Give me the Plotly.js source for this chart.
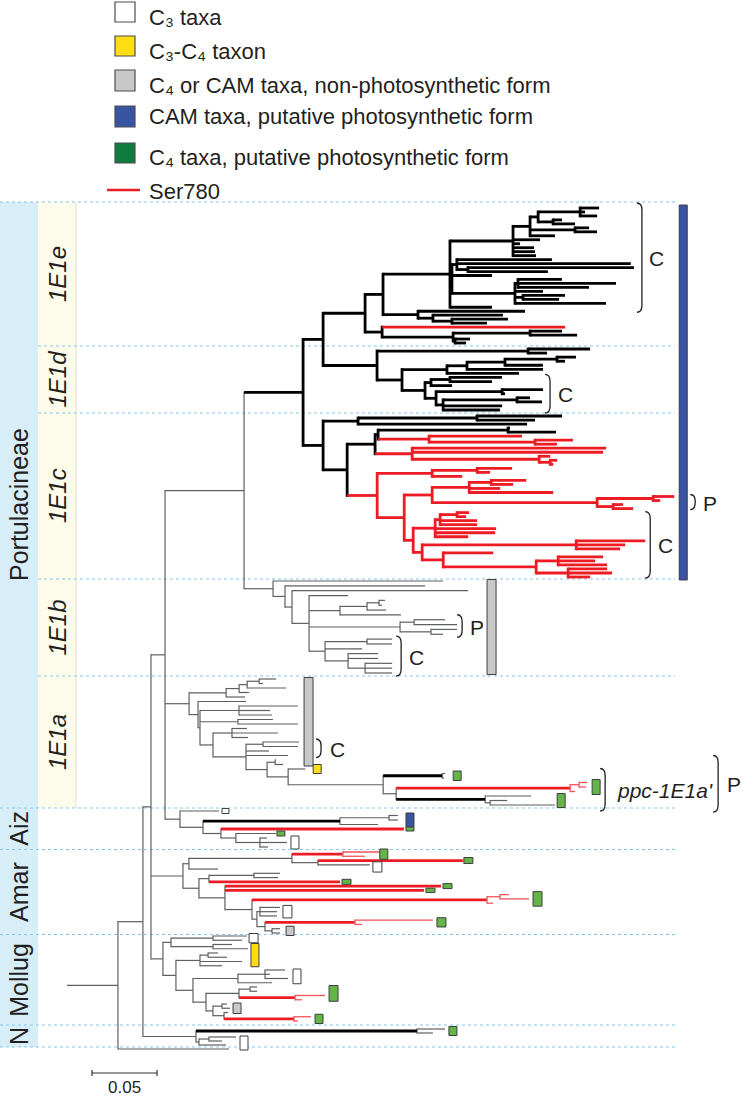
<!DOCTYPE html>
<html><head><meta charset="utf-8">
<script src="https://cdn.plot.ly/plotly-3.0.1.min.js"></script>
<style>html,body{margin:0;padding:0;background:#fff;}#chart{width:742px;height:1097px;}</style>
</head><body><div id="chart"></div>
<script>
// ================= DATA =================
// Subtrees in Newick; branch lengths in 0.001 substitutions/site.
// Node labels: K = thick black branch, R = thick red (Ser780), r = thin red, n = thin grey; "@id" names a node.
const clade1E1e = "(((((((:14.6,:3.8,:13.1):32.3,(:6.9,:16.9):11.5):6.2,(:10.8,:16.9):34.6,:19.2):13.1,:20.8,:5.4,:16.2,:16.9,:17.7):48.5,((:73.1,:133.8,(:127.7,:61.5):8.5):3.8,:30.8,((:33.8,:75.4,:54.6):2.3,:21.5,(:32.3,:27.7):6.2,:70):48.5):1.5,:32.3)@ce:51.5,(:82.3,(:53.8,(:43.1,:26.9):14.6):11.5):26.9):13.8,(R:140.8,((:24.6,:36.2):59.2,(:11.5,:8.5):1.5):54.6):13.1)@e:32.3";
const clade1E1d = "((:47.7,:14.6):116.2,(((((:14.6,:6.2):40,:29.2):29.2,:58.5):15.4,:55.4):34.6,(((:40,:32.3):14.6,:16.2):4.6,((:31.5,:2.3):50.8,((:10,:19.2):56.9,:45.4,:43.8):5.4):8.5)@cd:17.7):19.2)@d:41.5";
const clade1E1c = "(((:65.4,:44.6):91.5,:130):26.9,((((:1.5,:36.9):100,(:71.5,(:29.2,:16.9):81.5)R:39.2):2.3,(:149.2,:146.9,(:8.5,(:5.4,:2.3):8.5):97.7)R:28.5):21.5,(((:26.9,:10):34.6,:23.1):42.3,((((:26.9,:16.9):16.9,:23.8,:64.6):28.5,((:16.2,:5.4):43.1,(:7.7,:15.4):12.3)@cp:126.9):21.5,((((:9.2,:6.9):13.1,:28.5,:28.5):3.8,:46.9,:46.2,:25.4):16.9,((:53.1,:37.7,:33.8):118.5,(:38.5,((:34.6,:28.5,:37.7):16.9,(:30,:33.8,:16.9):24.6):71.5):16.2):6.9)@cc:6.9):20.8)R:23.1):18.5)@c:15.4";
const clade1E1b = "(:130.8,(:107.7,(:135.4,(:30,(((:4.6,:2.3):9.2,:14.6):20.8,:46.9):23.8,((:23.8,:33.1):10.8,(:20,:9.2):23.8)@bp:70,((:19.2,:19.2):32.3,:28.5,(:23.1,:23.1,(:20.8,:20.8,:20.8):13.1):17.7)@bc:12.3):13.1):5.4):9.2)@b:22.3";
const clade1E1a = "(((((:13.1,:3.1):9.2,:30):6.2,:7.7):10,:14.6)@a0:28.5,(:36.9,((:45.4,:23.8,:25.4):30,(:26.9,:46.2):29.2,((:11.5,:35.4,:12.3):14.6,((:27.7,:26.9)@ca1:13.1,:17.7,@ca2:32.3,((:0.8,:6.2)@a1:6.2,(@yel:13.1,((n:2.3,n:1.5)K@pg1:45.4,(((:6.2,:5.4)r:6.9,r:3.8)R@pg2:133.8,(n:35.4,(:13.1,:50)n:3.8)K@pg3:68.5):10)@ppc:73.1):16.2):16.2):25.4):10):1.5):6.9)@a:18.5";
const cladeAiz = "(@aw:30,(((:6.9,:6.9)n:37.7,n:29.2)K@ab:105.4,(R@ag:140.8,(@ag2:30.8,(:5.4,:20.8,:6.2)@aw2:18.5):11.5):13.8):17.7)@aiz:11.5";
const cladeAmar = "((((r:33.8,r:16.9)R@g1:39.2,(R@g2:111.5,@w1:40):20):79.2,@am218:22.3):4.6,(((:20,:18.5):34.6,R@g3:100.8):7.7,(R@g4:166.2,R@g5:153.1,(((:6.9,:22.3)r:10,r:4.6)R@g6:180.8,((:15.4,:13.1,:13.1)@w2:2.3,((r:60,r:5.4)R@g7:69.2,(:6.2,:6.2)@s1:5.4):6.2):3.8):20.8):20):12.3)@am:24.6";
const cladeMollug = "(((:26.2,:22.3)@mw:32.3,(:14.6,:26.9)@my1:32.3):6.2,(((:7.7,:14.6):6.2,:32.3,:16.9)@my2:18.5,(((:15.4,:3.8,:17.7):20.8,:26.2)@mw2:34.6,(((:5.4,:5.4):8.5,(r:23.1,r:5.4)R:43.1)@mg1:25.4,((:3.8,:6.2)@ms:6.9,(@ms2:3.1,(r:13.1,r:3.1)R@mg2:53.8):8.5):5.4):10):13.1):10)@mo:9.2";
const cladeN = "((n:21.5,n:12.3)K@ng:170,((:20.8,:10):7.7,:20.8)@nw:2.3)@n:40.8";
const backbone = "(((((((<1E1e>,<1E1d>):15.4,<1E1c>)K:45.4,<1E1b>):60.8,<1E1a>,<Aiz>):10.8,<Amar>,<Mollug>):6.2,<N>):19.2,@out:85.4):39.2";

const groupNames = ['1E1e','1E1d','1E1c','1E1b','1E1a','Aiz','Amar','Mollug','N'];
const groupRefs  = ['e','d','c','b','a','aiz','am','mo','n'];
const outerGroups = ['Portulacineae','Aiz','Amar','Mollug','N'];

// trait boxes at tips: kind (w=C3, y=C3-C4, s=non-photosynthetic, b=CAM photosynthetic, g=C4 photosynthetic)
const traitKind = ['s','y','g','g','g','s','b','w','b','g','g','w','g','g','w','g','g','g','g','w','g','s','w','y','w','g','s','g','g','w'];
const traitFrom = ['a0','yel','pg1','pg2','pg3','b','e','aw','ab','ag','ag2','aw2','g1','g2','w1','g3','g4','g5','g6','w2','g7','s1','mw','my1','mw2','mg1','ms','mg2','ng','nw'];
const traitTo   = ['a1','yel','pg1','pg2','pg3','b','c','aw','ab','ag','ag2','aw2','g1','g2','am218','g3','g4','g5','g6','w2','g7','s1','mw','my2','mw2','mg1','ms2','mg2','ng','out'];

// brackets
const bracketFrom  = ['ce','cd','cp','cc','bp','bc','ca1','ppc','ppc'];
const bracketTo    = ['ce','cd','cp','cc','bp','bc','ca2','ppc','ppc'];
const bracketLabel = ['C','C','P','C','P','C','C',"ppc-1E1a'",'P'];
const bracketItalic = [false,false,false,false,false,false,false,true,false];

const legendKinds  = ['w','y','s','b','gl','line'];
const legendLabels = ['C\u2083 taxa','C\u2083-C\u2084 taxon','C\u2084 or CAM taxa, non-photosynthetic form','CAM taxa, putative photosynthetic form','C\u2084 taxa, putative photosynthetic form','Ser780'];
const scaleBarValue = 0.05;

// ================= LAYOUT / STYLE =================
const W = 742, H = 1097, PXU = 1300, ROOT_PX = 67, UNIT = 0.001;
const TIP_BANDS = {e:[208,343], d:[349,410], c:[416,577], b:[581,673], a:[679,805], aiz:[811,847], am:[852,933], mo:[936,1021], n:[1029,1045], out:[1049,1049]};
const LINE = { n:{color:'#5e5f61',width:1.2}, K:{color:'#000000',width:2.8}, R:{color:'#ed1c24',width:2.8}, r:{color:'#f0525a',width:1.3} };
const FILL = { w:'#ffffff', y:'#ffdd15', s:'#c8c8c8', b:'#3a54a4', g:'#63b547', gl:'#0f7b3f' };
const traitDx  = [5,8,8,5,2,19,5,3,8,2,1,4,-7,1,3,2,2,2,4,3,4,6,2,3,5,4,3,4,4,4];
const traitPad = [1.5,4.5,2.5,3,2.5,1.5,3,2.5,2.5,2,2.5,2,3,3,3,2.5,2.5,2.2,3,2,2.5,2.5,2.5,1,1,1.5,1,2.5,2.5,1];
const traitW   = [9,8,8,8,8,9,8,7,8,8,8,8,8,9,9,9,9,9,9,9,9,8,9,8,8,9,8,8,8,8];
const bracketDx  = [3,2,16,0,0,4,17,13,126];
const bracketPad = [[5,5],[3,3],[2,1],[1,1],[5,3],[3,3],[3,2],[5,6],[18,7]];
const bracketGap = [5,6,6,6,6,6,7,10,7];
const FONT = 'Liberation Sans, Arial, Helvetica, sans-serif';
const TXT = '#231f20';

// ================= BUILD TREE =================
function parseNewick(s){
  let i = 0;
  function node(){
    const n = {children:[]};
    if (s[i] === '('){
      i++;
      n.children.push(node());
      while (s[i] === ','){ i++; n.children.push(node()); }
      if (s[i] !== ')') throw new Error('Newick error at ' + i);
      i++;
    }
    let lab = '';
    while (i < s.length && ':,();'.indexOf(s[i]) < 0) lab += s[i++];
    n.len = 0;
    if (s[i] === ':'){ i++; let num=''; while (i < s.length && /[0-9.]/.test(s[i])) num += s[i++]; n.len = parseFloat(num); }
    const p = lab.split('@'); n.style = p[0] || null; n.ref = p[1] || null;
    return n;
  }
  return node();
}
const cladeStrings = {'1E1e':clade1E1e,'1E1d':clade1E1d,'1E1c':clade1E1c,'1E1b':clade1E1b,'1E1a':clade1E1a,'Aiz':cladeAiz,'Amar':cladeAmar,'Mollug':cladeMollug,'N':cladeN};
const root = parseNewick(backbone.replace(/<([^>]+)>/g, (m,k) => cladeStrings[k]));

const tips = [], refs = {};
(function walk(n, depth, style, band){
  n.depth = depth + n.len;
  n.eff = n.style || style;
  if (n.ref && TIP_BANDS[n.ref]) band = n.ref;
  n.band = band;
  n.first = tips.length;
  if (!n.children.length) tips.push(n);
  else n.children.forEach(c => walk(c, n.depth, n.eff, band));
  n.last = tips.length - 1;
  if (n.ref) refs[n.ref] = n;
})(root, 0, 'n', null);

const bandTips = {};
tips.forEach(t => (bandTips[t.band] = bandTips[t.band] || []).push(t));
Object.keys(bandTips).forEach(b => {
  const arr = bandTips[b], [y0,y1] = TIP_BANDS[b];
  arr.forEach((t,k) => { t.y = arr.length > 1 ? y0 + (y1-y0)*k/(arr.length-1) : y0; });
});
(function setY(n){ if (n.children.length){ n.children.forEach(setY); n.y = (n.children[0].y + n.children[n.children.length-1].y)/2; } })(root);

const segs = {n:{x:[],y:[]}, K:{x:[],y:[]}, R:{x:[],y:[]}, r:{x:[],y:[]}};
function add(st,x0,y0,x1,y1){ const s = segs[st]; s.x.push(x0,x1,null); s.y.push(y0,y1,null); }
(function draw(n, pDepth){
  add(n.eff, pDepth*UNIT, n.y, n.depth*UNIT, n.y);
  if (n.children.length){
    const cs = n.children;
    const vs = cs.every(c => c.eff === cs[0].eff) ? cs[0].eff : n.eff;
    const ext = LINE[vs].width/2;
    add(vs, n.depth*UNIT, cs[0].y-ext, n.depth*UNIT, cs[cs.length-1].y+ext);
    cs.forEach(c => draw(c, n.depth));
  }
})(root, 0);

const traces = ['n','K','R','r'].map(k => ({
  type:'scatter', mode:'lines', x:segs[k].x, y:segs[k].y, hoverinfo:'skip', showlegend:false,
  line:{color:LINE[k].color, width:LINE[k].width}
}));

function rangeOf(a,b){
  const i0 = refs[a].first, i1 = refs[b].last;
  let mx = -Infinity;
  for (let i=i0;i<=i1;i++) mx = Math.max(mx, tips[i].depth);
  return {x: mx*UNIT, y0: tips[i0].y, y1: tips[i1].y};
}

const shapes = [], annotations = [];
const px = v => v/PXU;

// background group bands
const bounds = {};
groupRefs.forEach((g,i) => {
  const [y0,y1] = TIP_BANDS[g];
  const top = i===0 ? y0-6 : (TIP_BANDS[groupRefs[i-1]][1] + y0)/2;
  const bot = i===groupRefs.length-1 ? (y1 + TIP_BANDS.out[0])/2 : (y1 + TIP_BANDS[groupRefs[i+1]][0])/2;
  bounds[g] = [top, bot];
});
const portTop = bounds.e[0], portBot = bounds.a[1];
shapes.push({type:'rect', xref:'paper', yref:'y', x0:0, x1:38/W, y0:bounds.e[0], y1:bounds.n[1], fillcolor:'#d7eef8', line:{width:0}, layer:'below'});
shapes.push({type:'rect', xref:'paper', yref:'y', x0:38/W, x1:76/W, y0:portTop, y1:portBot, fillcolor:'#fdfbea', line:{width:0}, layer:'below'});
shapes.push({type:'line', xref:'paper', yref:'y', x0:76/W, x1:76/W, y0:portTop, y1:portBot, line:{color:'#e4e2d2', width:1}, layer:'below'});
// dotted separators
const seps = [{y:bounds.e[0], x0:0}];
groupRefs.forEach((g,i) => {
  const inner = i < 4; // boundary between two Portulacineae subclades
  seps.push({y:bounds[g][1], x0: inner ? 38 : 0});
});
seps.forEach(s => shapes.push({type:'line', xref:'paper', yref:'y', x0:s.x0/W, x1:675/W, y0:s.y, y1:s.y, line:{color:'#86c7ea', width:1, dash:'dot'}, layer:'below'}));

// group labels
const outerSpans = [[portTop,portBot], bounds.aiz, bounds.am, bounds.mo, bounds.n];
outerGroups.forEach((t,i) => annotations.push({xref:'paper', yref:'y', x:19/W, y:(outerSpans[i][0]+outerSpans[i][1])/2, text:t, textangle:-90, showarrow:false, xanchor:'center', yanchor:'middle', font:{family:FONT, size:25, color:TXT}}));
groupNames.slice(0,5).forEach((t,i) => { const b = bounds[groupRefs[i]]; annotations.push({xref:'paper', yref:'y', x:57/W, y:(b[0]+b[1])/2, text:t, textangle:-90, showarrow:false, xanchor:'center', yanchor:'middle', font:{family:FONT, size:24, color:TXT, style:'italic'}}); });

// trait boxes
traitKind.forEach((k,i) => {
  const r = rangeOf(traitFrom[i], traitTo[i]);
  const x0 = r.x + px(traitDx[i]);
  shapes.push({type:'rect', xref:'x', yref:'y', x0:x0, x1:x0+px(traitW[i]), y0:r.y0-traitPad[i], y1:r.y1+traitPad[i], fillcolor:FILL[k], line:{color:'#3f3f41', width:1}});
});

// brackets
bracketFrom.forEach((f,i) => {
  const r = rangeOf(f, bracketTo[i]);
  const bx = r.x + px(bracketDx[i]), bw = px(5);
  const y0 = r.y0 - bracketPad[i][0], y1 = r.y1 + bracketPad[i][1];
  const rr = Math.min(7, (y1-y0)/2);
  shapes.push({type:'path', xref:'x', yref:'y', path:`M ${bx},${y0} Q ${bx+bw},${y0} ${bx+bw},${y0+rr} L ${bx+bw},${y1-rr} Q ${bx+bw},${y1} ${bx},${y1}`, line:{color:TXT, width:1.3}});
  annotations.push({xref:'x', yref:'y', x:bx+bw+px(bracketGap[i]), y:(y0+y1)/2+1, text:bracketLabel[i], showarrow:false, xanchor:'left', yanchor:'middle', font:{family:FONT, size:21, color:TXT, style: bracketItalic[i] ? 'italic' : 'normal'}});
});

// scale bar
const sb0 = px(92-ROOT_PX), sbY = 1073;
shapes.push({type:'line', xref:'x', yref:'y', x0:sb0, x1:sb0+scaleBarValue, y0:sbY, y1:sbY, line:{color:'#333', width:1.2}});
shapes.push({type:'line', xref:'x', yref:'y', x0:sb0, x1:sb0, y0:sbY+3, y1:sbY-3, line:{color:'#333', width:1.2}});
shapes.push({type:'line', xref:'x', yref:'y', x0:sb0+scaleBarValue, x1:sb0+scaleBarValue, y0:sbY+3, y1:sbY-3, line:{color:'#333', width:1.2}});
annotations.push({xref:'x', yref:'y', x:sb0+scaleBarValue/2, y:1087, text:String(scaleBarValue), showarrow:false, xanchor:'center', yanchor:'middle', font:{family:FONT, size:17, color:TXT}});

// legend
const LEG_BOX = [[2,22],[36,56],[70,91],[106,127],[143,163]];
const LEG_TEXT_Y = [17,51,85,116,157,191];
legendKinds.forEach((k,i) => {
  if (k === 'line') shapes.push({type:'line', xref:'paper', yref:'y', x0:107/W, x1:140/W, y0:190, y1:190, line:{color:'#ed1c24', width:2.5}});
  else shapes.push({type:'rect', xref:'paper', yref:'y', x0:115/W, x1:135/W, y0:LEG_BOX[i][0], y1:LEG_BOX[i][1], fillcolor:FILL[k], line:{color:'#4d4d4f', width:1.2}});
  annotations.push({xref:'paper', yref:'y', x:147/W, y:LEG_TEXT_Y[i], text:legendLabels[i], showarrow:false, xanchor:'left', yanchor:'middle', font:{family:FONT, size:22, color:TXT}});
});

const layout = {
  width:W, height:H, margin:{l:0,r:0,t:0,b:0}, paper_bgcolor:'#ffffff', plot_bgcolor:'rgba(0,0,0,0)',
  xaxis:{range:[-ROOT_PX/PXU, (W-ROOT_PX)/PXU], visible:false, fixedrange:true},
  yaxis:{range:[H,0], visible:false, fixedrange:true},
  shapes:shapes, annotations:annotations, showlegend:false, hovermode:false
};
Plotly.newPlot('chart', traces, layout, {staticPlot:true, displayModeBar:false});
</script></body></html>
